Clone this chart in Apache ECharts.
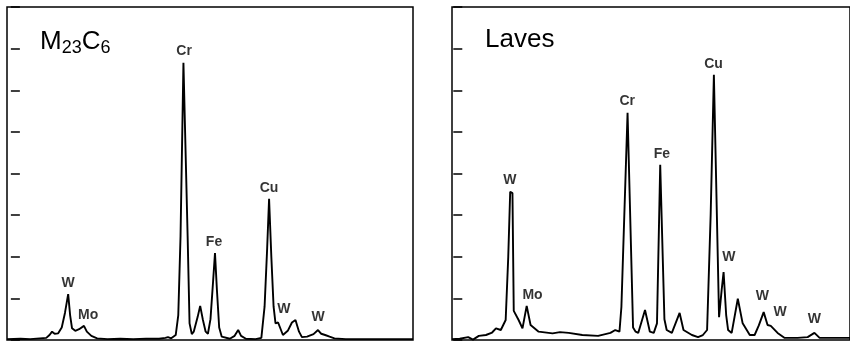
<!DOCTYPE html>
<html>
<head>
<meta charset="utf-8">
<script src="https://cdn.jsdelivr.net/npm/echarts@6/dist/echarts.min.js"></script>
<style>html,body{margin:0;padding:0;background:#fff}#c{width:850px;height:342px}</style>
</head>
<body>
<div id="c"></div>
<script>
// ---- Data (energy in keV, intensity in axis units 0..8) ----
const m23c6Energy = [-0.12,0.30,0.60,0.90,1.10,1.20,1.28,1.36,1.47,1.58,1.68,1.78,1.84,1.90,2.00,2.12,2.27,2.36,2.50,2.68,3.00,3.40,3.80,4.20,4.60,4.80,4.88,4.98,5.12,5.20,5.27,5.36,5.42,5.49,5.55,5.62,5.68,5.80,5.88,5.96,6.05,6.12,6.20,6.28,6.34,6.40,6.47,6.55,6.80,6.95,7.06,7.15,7.30,7.60,7.78,7.88,7.96,8.02,8.09,8.16,8.22,8.30,8.36,8.45,8.60,8.73,8.84,8.95,9.04,9.20,9.40,9.54,9.64,9.76,9.90,10.05,10.40,11.00,11.80,12.49];
const m23c6Intensity = [0.02,0.03,0.02,0.04,0.05,0.12,0.20,0.15,0.16,0.30,0.65,1.10,0.60,0.28,0.22,0.26,0.34,0.20,0.10,0.04,0.02,0.03,0.02,0.03,0.03,0.05,0.07,0.04,0.12,0.60,2.50,6.66,6.66,2.50,0.40,0.14,0.20,0.55,0.82,0.50,0.20,0.15,0.50,1.40,2.09,1.20,0.30,0.08,0.03,0.10,0.24,0.10,0.03,0.02,0.05,0.80,2.20,3.39,2.00,0.80,0.40,0.42,0.30,0.12,0.22,0.42,0.48,0.20,0.07,0.08,0.14,0.24,0.15,0.12,0.08,0.04,0.02,0.02,0.02,0.02];

const lavesEnergy = [-0.04,0.20,0.46,0.61,0.79,1.01,1.20,1.32,1.47,1.62,1.70,1.76,1.83,1.87,2.02,2.14,2.27,2.39,2.64,3.07,3.30,3.57,3.99,4.48,4.86,5.01,5.14,5.20,5.39,5.44,5.56,5.64,5.72,5.93,6.08,6.20,6.30,6.40,6.45,6.53,6.60,6.76,7.00,7.12,7.38,7.57,7.72,7.85,7.96,8.06,8.11,8.18,8.22,8.30,8.36,8.44,8.50,8.61,8.80,8.95,9.17,9.32,9.45,9.60,9.72,9.82,9.88,10.03,10.25,10.65,10.96,11.17,11.33,11.80,12.27];
const lavesIntensity = [0.02,0.03,0.07,0.01,0.10,0.12,0.18,0.28,0.24,0.48,2.00,3.56,3.53,0.70,0.48,0.28,0.82,0.36,0.20,0.16,0.19,0.17,0.12,0.10,0.17,0.24,0.20,0.80,5.46,5.46,0.30,0.20,0.17,0.72,0.20,0.17,0.40,4.21,4.21,0.50,0.24,0.17,0.65,0.24,0.12,0.07,0.12,0.24,3.00,6.37,6.37,2.00,0.55,1.20,1.63,0.60,0.24,0.17,0.99,0.40,0.12,0.12,0.35,0.67,0.36,0.34,0.34,0.17,0.05,0.05,0.07,0.17,0.05,0.05,0.05];

const m23c6LabelE = [1.78,2.40,5.38,6.31,8.02,8.48,9.54];
const m23c6LabelY = [1.37,0.60,6.95,2.36,3.65,0.75,0.55];
const m23c6LabelText = ['W','Mo','Cr','Fe','Cu','W','W'];

const lavesLabelE = [1.75,2.45,5.38,6.45,8.05,8.52,9.56,10.11,11.17];
const lavesLabelY = [3.85,1.08,5.75,4.47,6.63,2.00,1.06,0.67,0.50];
const lavesLabelText = ['W','Mo','Cr','Fe','Cu','W','W','W','W'];

const yTicks = [0,1,2,3,4,5,6,7,8];

// ---- Build ----
const zip2 = (a,b) => a.map((v,i)=>[v,b[i]]);
const zip3 = (a,b,c) => a.map((v,i)=>[v,b[i],c[i]]);
const FONT = '"Liberation Sans", Arial, Helvetica, sans-serif';

function yAxis(gi){
  return {gridIndex:gi, type:'value', min:yTicks[0], max:yTicks[yTicks.length-1], interval:1,
    axisLine:{show:false}, axisLabel:{show:false}, splitLine:{show:false},
    axisTick:{show:true, inside:true, length:9, lineStyle:{color:'#000', width:1.5}}};
}
function xAxis(gi, mn, mx){
  return {gridIndex:gi, type:'value', min:mn, max:mx,
    axisLine:{show:false}, axisLabel:{show:false}, axisTick:{show:false}, splitLine:{show:false}};
}
function lineSeries(gi, data){
  return {type:'line', xAxisIndex:gi, yAxisIndex:gi, data:data, symbol:'none', smooth:false,
    lineStyle:{color:'#000', width:1.9}, animation:false, silent:true};
}
function labelSeries(gi, data){
  return {type:'scatter', xAxisIndex:gi, yAxisIndex:gi, data:data, symbolSize:1,
    itemStyle:{color:'rgba(0,0,0,0)'}, animation:false, silent:true,
    label:{show:true, position:'inside', formatter:p=>p.value[2], color:'#000',
      fontSize:14, fontWeight:'bold', fontFamily:FONT}};
}

const chart = echarts.init(document.getElementById('c'), null, {renderer:'canvas'});
chart.setOption({
  backgroundColor:'#fff',
  animation:false,
  title:[
    {left:35, top:22, text:'{b|M}{s|23}{b|C}{s|6}',
     textStyle:{fontWeight:'normal', rich:{b:{fontSize:26, fontWeight:'normal', fontFamily:FONT, color:'#000', lineHeight:30},
                      s:{fontSize:18, fontWeight:'normal', fontFamily:FONT, color:'#000', lineHeight:18, verticalAlign:'bottom'}}}},
    {left:480, top:22, text:'Laves', textStyle:{fontSize:26, fontFamily:FONT, color:'#000', fontWeight:'normal'}}
  ],
  grid:[
    {left:7, top:7, width:406, height:333, show:true, borderColor:'#000', borderWidth:1.5, backgroundColor:'transparent'},
    {left:452, top:7, width:400, height:333, show:true, borderColor:'#000', borderWidth:1.5, backgroundColor:'transparent'}
  ],
  xAxis:[xAxis(0,-0.12,12.49), xAxis(1,-0.04,12.27)],
  yAxis:[yAxis(0), yAxis(1)],
  series:[
    lineSeries(0, zip2(m23c6Energy, m23c6Intensity)),
    lineSeries(1, zip2(lavesEnergy, lavesIntensity)),
    labelSeries(0, zip3(m23c6LabelE, m23c6LabelY, m23c6LabelText)),
    labelSeries(1, zip3(lavesLabelE, lavesLabelY, lavesLabelText))
  ]
});
</script>
</body>
</html>
